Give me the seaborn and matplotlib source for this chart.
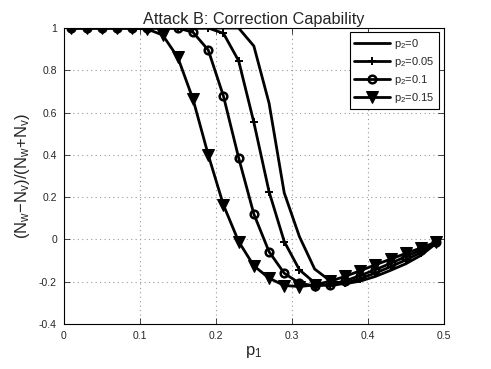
import numpy as np
import pandas as pd
import matplotlib
matplotlib.use("Agg")
import matplotlib.pyplot as plt
import seaborn as sns

p1 = [0.01, 0.03, 0.05, 0.07, 0.09, 0.11, 0.13, 0.15, 0.17, 0.19, 0.21, 0.23, 0.25,
      0.27, 0.29, 0.31, 0.33, 0.35, 0.37, 0.39, 0.41, 0.43, 0.45, 0.47, 0.49]

p2_0 = [1.0, 1.0, 1.0, 1.0, 1.0, 1.0, 1.0, 1.0, 1.0, 1.0, 1.0, 1.0, 0.915,
        0.645, 0.22, 0.013, -0.14, -0.195, -0.21, -0.197, -0.175, -0.146, -0.115, -0.075, -0.018]
p2_005 = [1.0, 1.0, 1.0, 1.0, 1.0, 1.0, 1.0, 1.0, 1.0, 1.0, 0.975, 0.845, 0.554,
          0.226, -0.01, -0.144, -0.205, -0.22, -0.207, -0.185, -0.159, -0.129, -0.097, -0.062, -0.016]
p2_01 = [1.0, 1.0, 1.0, 1.0, 1.0, 1.0, 1.0, 1.0, 0.98, 0.896, 0.678, 0.386, 0.12,
         -0.058, -0.16, -0.207, -0.22, -0.215, -0.196, -0.171, -0.143, -0.113, -0.081, -0.05, -0.014]
p2_015 = [1.0, 1.0, 1.0, 1.0, 1.0, 0.995, 0.967, 0.861, 0.663, 0.40, 0.163, -0.01, -0.125,
          -0.183, -0.218, -0.223, -0.215, -0.198, -0.175, -0.148, -0.12, -0.093, -0.066, -0.04, -0.012]

labels = ["p$_2$=0", "p$_2$=0.05", "p$_2$=0.1", "p$_2$=0.15"]
series = [p2_0, p2_005, p2_01, p2_015]
xticks = [0, 0.1, 0.2, 0.3, 0.4, 0.5]
yticks = [-0.4, -0.2, 0, 0.2, 0.4, 0.6, 0.8, 1]
xtick_labels = ["0", "0.1", "0.2", "0.3", "0.4", "0.5"]
ytick_labels = ["-0.4", "-0.2", "0", "0.2", "0.4", "0.6", "0.8", "1"]

sns.set_theme(style="ticks")
plt.rcParams["font.family"] = ["Liberation Sans", "DejaVu Sans"]
plt.rcParams["mathtext.default"] = "regular"

fig = plt.figure(figsize=(4.91, 3.69), dpi=100)
ax = fig.add_axes([0.130, 0.122, 0.774, 0.802])

styles = [
    dict(marker=None),
    dict(marker="+", markersize=6, markeredgewidth=1.4, markeredgecolor="black"),
    dict(marker="o", markersize=5.5, markerfacecolor="none", markeredgecolor="black", markeredgewidth=1.8),
    dict(marker="v", markersize=8.5, markerfacecolor="black", markeredgecolor="black"),
]
for lab, ys, st in zip(labels, series, styles):
    df = pd.DataFrame({"p1": p1, "y": ys})
    sns.lineplot(data=df, x="p1", y="y", ax=ax, color="black", linewidth=2.0,
                 label=lab, **st)

ax.set_xlim(0, 0.5)
ax.set_ylim(-0.4, 1.0)
ax.set_xticks(xticks)
ax.set_xticklabels(xtick_labels)
ax.set_yticks(yticks)
ax.set_yticklabels(ytick_labels)
ax.grid(True, linestyle=(0, (1, 3)), color="#999999", linewidth=0.8)
ax.tick_params(direction="in", top=True, right=True, labelsize=7.5, length=4, width=0.6, pad=5)
for s in ax.spines.values():
    s.set_visible(True)
    s.set_color("black")
    s.set_linewidth(0.8)

ax.set_title("Attack B: Correction Capability", fontsize=11.7, pad=3)
ax.set_xlabel("p$_1$", fontsize=12, labelpad=2)
ax.set_ylabel("(N$_w$\u2212N$_v$)/(N$_w$+N$_v$)", fontsize=12, labelpad=5)

leg = ax.legend(loc="upper right", fontsize=8, frameon=True, fancybox=False,
                edgecolor="black", handlelength=3.2, borderaxespad=0.4,
                labelspacing=0.35, handletextpad=0.4)
leg.get_frame().set_linewidth(0.8)
leg.get_frame().set_alpha(1)

fig.savefig("out.png", dpi=100)
